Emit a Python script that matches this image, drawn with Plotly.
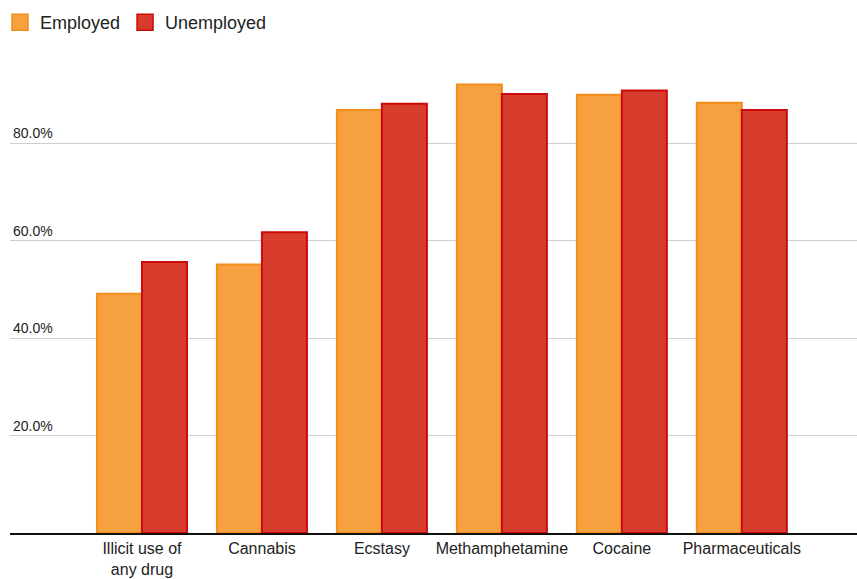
import plotly.graph_objects as go

categories = ["Illicit use of<br>any drug", "Cannabis", "Ecstasy", "Methamphetamine", "Cocaine", "Pharmaceuticals"]
employed = [49.1, 55.1, 86.8, 92.0, 89.9, 88.3]
unemployed = [55.6, 61.7, 88.1, 90.1, 90.8, 86.8]
y_ticks = [20, 40, 60, 80]

FONT = "Liberation Sans, Arial, Helvetica, sans-serif"
EMP_FILL, EMP_LINE = "#F6A040", "#F18E1C"
UNE_FILL, UNE_LINE = "#D83C2C", "#CC0A0A"

fig = go.Figure()
fig.add_trace(go.Bar(
    name="Employed", x=categories, y=employed, showlegend=False,
    marker=dict(color=EMP_FILL, line=dict(color=EMP_LINE, width=2)),
))
fig.add_trace(go.Bar(
    name="Unemployed", x=categories, y=unemployed, showlegend=False,
    marker=dict(color=UNE_FILL, line=dict(color=UNE_LINE, width=2)),
))
# legend-only entries with larger square swatches
for nm, fc, lc in [("Employed", EMP_FILL, EMP_LINE), ("Unemployed", UNE_FILL, UNE_LINE)]:
    fig.add_trace(go.Scatter(
        name=nm, x=[None], y=[None], mode="markers",
        marker=dict(symbol="square", size=16, color=fc, line=dict(color=lc, width=1.5)),
        showlegend=True, hoverinfo="skip",
    ))

fig.update_layout(
    width=857, height=579,
    margin=dict(l=10, r=0, t=70, b=46, autoexpand=False),
    paper_bgcolor="white", plot_bgcolor="white",
    barmode="group", bargap=0.25, bargroupgap=0,
    font=dict(family=FONT, size=14, color="#222"),
    legend=dict(orientation="h", xref="container", x=0, xanchor="left",
                yref="container", y=0.993, yanchor="top",
                font=dict(size=18, color="#222"), itemwidth=30, traceorder="normal"),
    showlegend=True,
)
fig.update_xaxes(
    range=[-1.1, 5.96], showgrid=False, showline=True, linecolor="#111", linewidth=1.5,
    ticks="", tickfont=dict(size=16, color="#222"), fixedrange=True,
)
fig.update_yaxes(
    range=[0, 95], tickvals=y_ticks, ticktext=[f"{v:.1f}%" for v in y_ticks],
    showgrid=True, gridcolor="#CFCFCF", gridwidth=1, zeroline=False,
    ticklabelposition="inside top", tickfont=dict(size=14, color="#222"),
    showline=False, ticks="",
)
fig.write_html("out.html")
